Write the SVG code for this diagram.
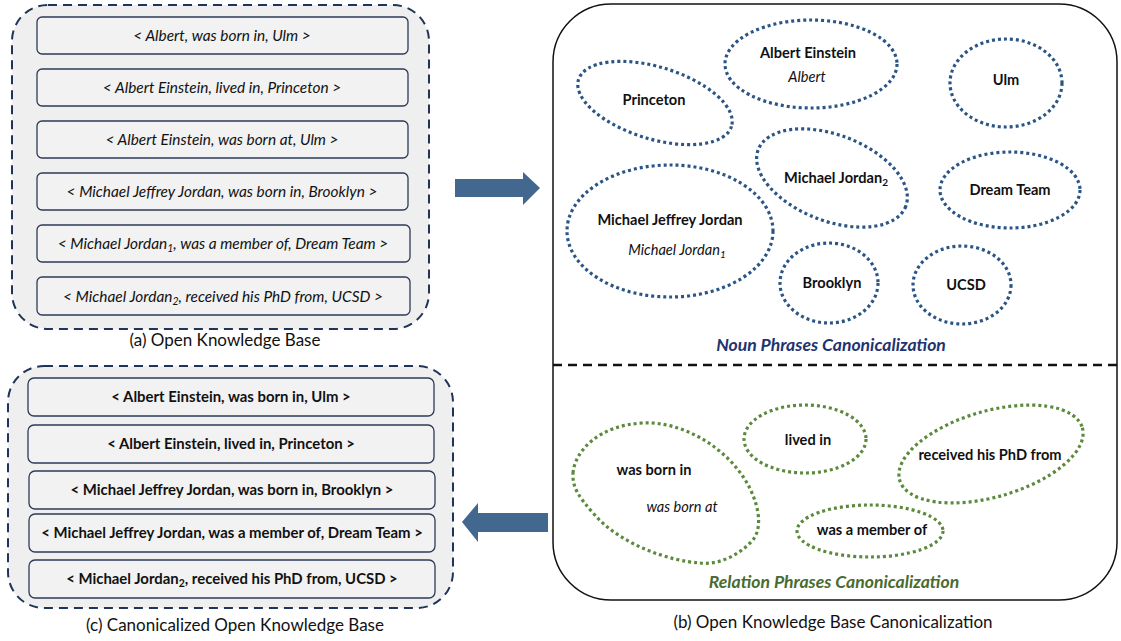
<svg xmlns="http://www.w3.org/2000/svg" width="1121" height="641" viewBox="0 0 1121 641">
<defs>
<style>
text{font-family:Lato,"Open Sans","Liberation Sans",sans-serif;fill:#111;text-anchor:middle}
.cont{fill:#efefef;stroke:#1f3458;stroke-width:2;stroke-dasharray:9 6}
.box{fill:#f2f2f2;stroke:#2c3a58;stroke-width:1.3}
.ti{font-size:15.4px;font-style:italic}
.tb{font-size:14.9px;font-weight:bold}
.lb{font-size:14.6px;font-weight:bold}
.li{font-size:14.6px;font-style:italic}
.np{fill:none;stroke:#2b5585;stroke-width:3.2;stroke-dasharray:3 3}
.rp{fill:none;stroke:#5b8a3c;stroke-width:3.2;stroke-dasharray:3 3}
.cap{font-size:17px}
.arrow{fill:#436890}
</style>
</defs>
<g id="open-kb">
<rect class="cont" x="12" y="5" width="417" height="324" rx="36"/>
<rect class="box" x="37" y="17" width="371" height="37" rx="5"/>
<text class="ti" x="222" y="41">&lt; Albert, was born in, Ulm &gt;</text>
<rect class="box" x="37" y="69" width="371" height="37" rx="5"/>
<text class="ti" x="222" y="93">&lt; Albert Einstein, lived in, Princeton &gt;</text>
<rect class="box" x="37" y="121" width="371" height="37" rx="5"/>
<text class="ti" x="222" y="145">&lt; Albert Einstein, was born at, Ulm &gt;</text>
<rect class="box" x="37" y="173" width="371" height="37" rx="5"/>
<text class="ti" x="222" y="197">&lt; Michael Jeffrey Jordan, was born in, Brooklyn &gt;</text>
<rect class="box" x="37" y="225" width="373" height="37" rx="5"/>
<text class="ti" x="223" y="249">&lt; Michael Jordan<tspan font-size="10.5" dy="3">1</tspan><tspan dy="-3">, was a member of, Dream Team &gt;</tspan></text>
<rect class="box" x="37" y="277" width="373" height="38" rx="5"/>
<text class="ti" x="223" y="302">&lt; Michael Jordan<tspan font-size="10.5" dy="3">2</tspan><tspan dy="-3">, received his PhD from, UCSD &gt;</tspan></text>
<text class="cap" x="225" y="346">(a) Open Knowledge Base</text>
</g>
<g id="canonical-kb">
<rect class="cont" x="8" y="366" width="445" height="242" rx="36"/>
<rect class="box" x="28" y="378" width="406" height="38" rx="6"/>
<text class="tb" x="231" y="402">&lt; Albert Einstein, was born in, Ulm &gt;</text>
<rect class="box" x="28" y="425" width="406" height="38" rx="6"/>
<text class="tb" x="231" y="449">&lt; Albert Einstein, lived in, Princeton &gt;</text>
<rect class="box" x="29" y="471" width="406" height="38" rx="6"/>
<text class="tb" x="232" y="495">&lt; Michael Jeffrey Jordan, was born in, Brooklyn &gt;</text>
<rect class="box" x="29" y="514" width="406" height="38" rx="6"/>
<text class="tb" x="232" y="538">&lt; Michael Jeffrey Jordan, was a member of, Dream Team &gt;</text>
<rect class="box" x="29" y="560" width="406" height="38" rx="6"/>
<text class="tb" x="232" y="584">&lt; Michael Jordan<tspan font-size="10.5" dy="3">2</tspan><tspan dy="-3">, received his PhD from, UCSD &gt;</tspan></text>
<text class="cap" x="235" y="631">(c) Canonicalized Open Knowledge Base</text>
</g>
<g id="canonicalization">
<rect x="553" y="4" width="564" height="596" rx="58" fill="#fff" stroke="#111" stroke-width="1.5"/>
<line x1="553" y1="365" x2="1117" y2="365" stroke="#111" stroke-width="2.5" stroke-dasharray="9 6"/>
<text class="cap" x="833" y="628">(b) Open Knowledge Base Canonicalization</text>
</g>
<g id="np-albert-einstein">
<ellipse class="np" cx="811" cy="64" rx="86" ry="44"/>
<text class="lb" x="808" y="58">Albert Einstein</text>
<text class="li" x="807" y="82">Albert</text>
</g>
<g id="np-princeton">
<ellipse class="np" cx="655" cy="103" rx="80" ry="36" transform="rotate(17 655 103)"/>
<text class="lb" x="654" y="105">Princeton</text>
</g>
<g id="np-ulm">
<ellipse class="np" cx="1006" cy="83" rx="56" ry="44"/>
<text class="lb" x="1006" y="85">Ulm</text>
</g>
<g id="np-michael-jordan2">
<ellipse class="np" cx="832" cy="178" rx="79" ry="43" transform="rotate(21 832 178)"/>
<text class="lb" x="836" y="183">Michael Jordan<tspan font-size="10" dy="3">2</tspan></text>
</g>
<g id="np-dream-team">
<ellipse class="np" cx="1010" cy="190" rx="70" ry="38"/>
<text class="lb" x="1010" y="195">Dream Team</text>
</g>
<g id="np-michael-jeffrey-jordan">
<ellipse class="np" cx="670" cy="231" rx="103" ry="66"/>
<text class="lb" x="670" y="225">Michael Jeffrey Jordan</text>
<text class="li" x="677" y="255">Michael Jordan<tspan font-size="10" dy="3">1</tspan></text>
</g>
<g id="np-brooklyn">
<ellipse class="np" cx="829" cy="283" rx="49" ry="40"/>
<text class="lb" x="832" y="288">Brooklyn</text>
</g>
<g id="np-ucsd">
<ellipse class="np" cx="962" cy="285" rx="49" ry="39"/>
<text class="lb" x="966" y="290">UCSD</text>
</g>
<text x="831" y="351" font-size="17.6" font-weight="bold" font-style="italic" style="fill:#1f3370">Noun Phrases Canonicalization</text>
<g id="rp-was-born-in">
<path class="rp" d="M573,473 C575,450 600,425 643,423 C680,421 725,445 747,483 C758,502 765,530 750,543 C735,558 715,565 700,563 C670,561 620,545 593,513 C580,498 572,488 573,473 Z"/>
<text class="lb" x="654" y="475">was born in</text>
<text class="li" x="682" y="512">was born at</text>
</g>
<g id="rp-lived-in">
<ellipse class="rp" cx="805" cy="439" rx="61" ry="34"/>
<text class="lb" x="808" y="445">lived in</text>
</g>
<g id="rp-received-phd">
<ellipse class="rp" cx="991" cy="454" rx="95" ry="43" transform="rotate(-16 991 454)"/>
<text class="lb" x="990" y="460">received his PhD from</text>
</g>
<g id="rp-member-of">
<ellipse class="rp" cx="870" cy="531" rx="73" ry="26"/>
<text class="lb" x="872" y="535">was a member of</text>
</g>
<text x="834" y="588" font-size="17.6" font-weight="bold" font-style="italic" style="fill:#4a6b2e">Relation Phrases Canonicalization</text>
<g id="connectors">
<polygon class="arrow" points="455,179 523,179 523,172 540,188 523,205 523,197 455,197"/>
<polygon class="arrow" points="548,513 478,513 478,503 462,522 478,542 478,532 548,532"/>
</g>
</svg>
